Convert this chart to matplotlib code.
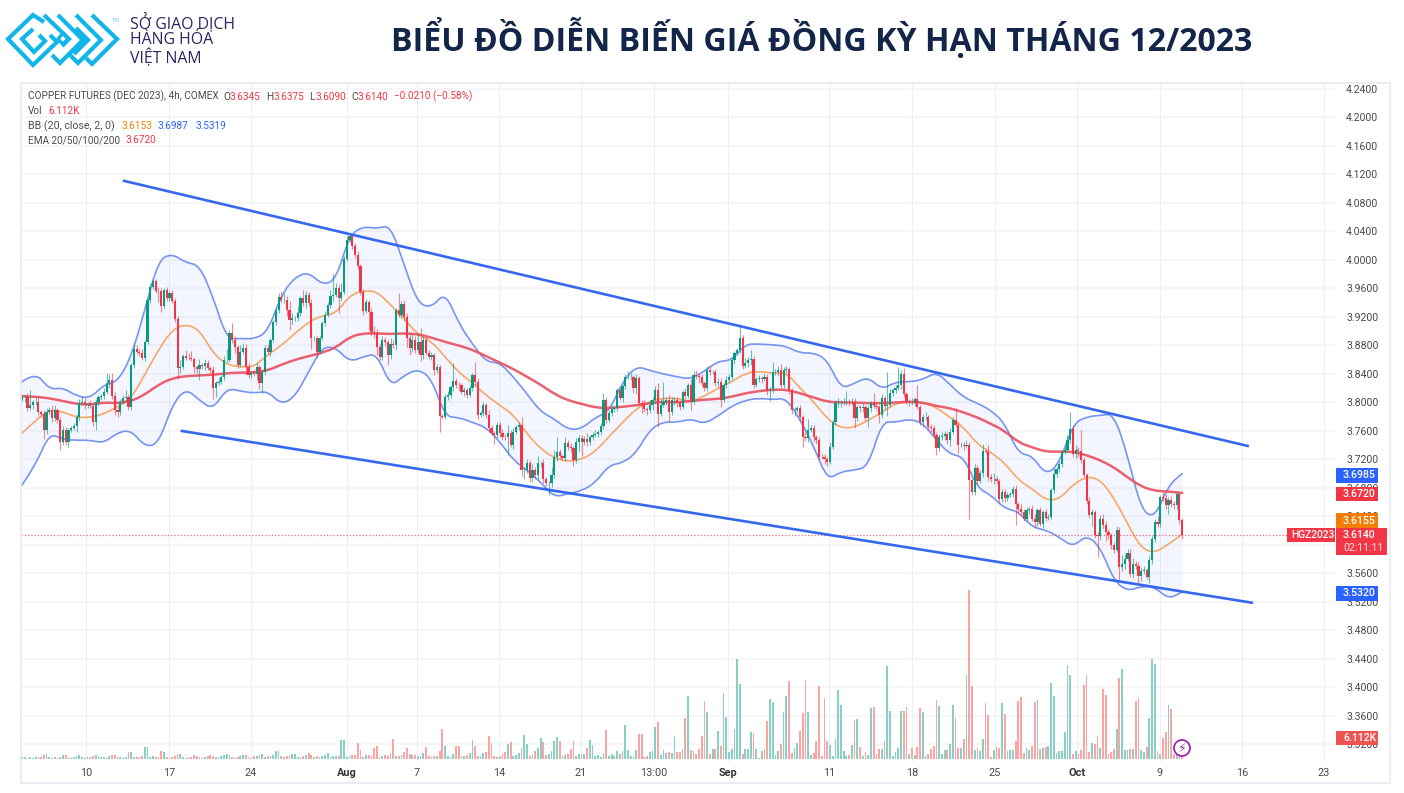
import matplotlib
matplotlib.use('Agg')
import matplotlib.pyplot as plt
import numpy as np
from matplotlib.patches import Circle, PathPatch, Rectangle
from matplotlib.path import Path

W, H = 1404, 793

# prices in thousandths, one value per 4h bar, rows of ten
close_k = [
    3807, 3808, 3792, 3797, 3800, 3801, 3787, 3784, 3761, 3787,
    3790, 3778, 3789, 3775, 3745, 3761, 3744, 3761, 3764, 3767,
    3780, 3799, 3801, 3796, 3798, 3795, 3772, 3801, 3807, 3809,
    3815, 3827, 3832, 3809, 3790, 3787, 3801, 3806, 3808, 3794,
    3853, 3875, 3871, 3869, 3862, 3885, 3944, 3962, 3970, 3957,
    3956, 3935, 3958, 3946, 3953, 3943, 3917, 3848, 3850, 3865,
    3863, 3862, 3861, 3850, 3847, 3853, 3851, 3855, 3848, 3846,
    3820, 3827, 3829, 3836, 3860, 3860, 3897, 3888, 3878, 3853,
    3871, 3876, 3850, 3839, 3841, 3840, 3850, 3827, 3843, 3876,
    3871, 3888, 3913, 3930, 3948, 3944, 3944, 3930, 3916, 3918,
    3918, 3925, 3946, 3939, 3951, 3939, 3890, 3890, 3871, 3890,
    3911, 3923, 3937, 3950, 3951, 3961, 3946, 3955, 4002, 4028,
    4033, 4019, 4007, 3991, 3955, 3928, 3941, 3927, 3899, 3898,
    3878, 3864, 3888, 3885, 3867, 3882, 3881, 3930, 3923, 3938,
    3920, 3890, 3876, 3888, 3874, 3885, 3866, 3888, 3869, 3864,
    3867, 3845, 3850, 3781, 3780, 3808, 3810, 3822, 3830, 3825,
    3824, 3815, 3817, 3810, 3820, 3838, 3829, 3782, 3785, 3796,
    3782, 3764, 3757, 3754, 3768, 3757, 3752, 3751, 3757, 3741,
    3759, 3765, 3769, 3705, 3705, 3715, 3694, 3705, 3698, 3715,
    3715, 3692, 3687, 3687, 3698, 3724, 3731, 3725, 3722, 3743,
    3738, 3736, 3719, 3744, 3750, 3745, 3749, 3744, 3751, 3755,
    3756, 3759, 3767, 3804, 3776, 3785, 3791, 3792, 3818, 3806,
    3823, 3836, 3836, 3836, 3820, 3834, 3799, 3797, 3791, 3789,
    3797, 3804, 3818, 3784, 3797, 3801, 3804, 3786, 3803, 3804,
    3799, 3794, 3815, 3809, 3825, 3801, 3839, 3837, 3836, 3827,
    3820, 3846, 3843, 3843, 3828, 3829, 3804, 3825, 3831, 3836,
    3859, 3869, 3873, 3890, 3851, 3855, 3859, 3861, 3825, 3833,
    3834, 3833, 3836, 3818, 3819, 3843, 3843, 3846, 3825, 3846,
    3847, 3818, 3789, 3790, 3792, 3780, 3752, 3750, 3762, 3764,
    3752, 3747, 3724, 3723, 3720, 3716, 3738, 3773, 3799, 3800,
    3800, 3800, 3801, 3800, 3801, 3778, 3793, 3792, 3793, 3778,
    3792, 3799, 3795, 3793, 3783, 3806, 3795, 3797, 3814, 3818,
    3820, 3825, 3840, 3812, 3801, 3801, 3799, 3805, 3794, 3773,
    3779, 3780, 3766, 3764, 3755, 3736, 3752, 3753, 3756, 3747,
    3759, 3776, 3769, 3741, 3741, 3739, 3741, 3691, 3675, 3708,
    3690, 3701, 3732, 3731, 3695, 3693, 3693, 3690, 3665, 3674,
    3666, 3670, 3672, 3679, 3658, 3651, 3646, 3637, 3649, 3651,
    3637, 3632, 3649, 3630, 3646, 3638, 3639, 3677, 3700, 3707,
    3714, 3731, 3733, 3747, 3763, 3728, 3733, 3732, 3719, 3698,
    3662, 3642, 3646, 3614, 3612, 3637, 3628, 3618, 3614, 3600,
    3593, 3621, 3569, 3574, 3581, 3589, 3559, 3574, 3571, 3557,
    3564, 3565, 3555, 3579, 3609, 3632, 3630, 3667, 3666, 3656,
    3663, 3657, 3656, 3672, 3635, 3614]

wick_up = [
    3, 2, 6, 20, 4, 5, 8, 3, 6, 5,
    4, 6, 8, 3, 5, 6, 4, 3, 3, 4,
    4, 6, 8, 5, 3, 6, 5, 4, 3, 3,
    5, 14, 8, 10, 6, 3, 4, 5, 10, 4,
    3, 8, 6, 4, 6, 2, 3, 5, 3, 3,
    5, 4, 3, 4, 4, 5, 3, 4, 10, 3,
    8, 6, 10, 3, 3, 8, 3, 6, 5, 3,
    5, 3, 6, 3, 5, 15, 5, 14, 5, 3,
    10, 8, 6, 5, 3, 4, 6, 3, 4, 5,
    6, 3, 3, 3, 6, 8, 10, 6, 12, 8,
    4, 10, 3, 12, 6, 4, 6, 3, 4, 3,
    3, 5, 4, 8, 30, 6, 5, 12, 4, 6,
    5, 4, 5, 5, 3, 4, 4, 3, 6, 8,
    5, 4, 6, 4, 3, 8, 5, 3, 23, 5,
    6, 5, 6, 8, 5, 12, 19, 5, 4, 4,
    4, 3, 4, 3, 3, 4, 6, 3, 25, 4,
    4, 3, 5, 3, 4, 3, 19, 6, 3, 4,
    3, 8, 5, 3, 5, 4, 6, 4, 12, 4,
    5, 4, 3, 11, 5, 6, 4, 8, 5, 10,
    3, 5, 3, 3, 12, 10, 20, 4, 3, 8,
    4, 5, 3, 6, 5, 5, 4, 8, 3, 4,
    5, 3, 4, 10, 3, 4, 5, 3, 3, 4,
    3, 4, 8, 5, 3, 6, 3, 4, 6, 3,
    6, 4, 5, 10, 8, 28, 4, 6, 4, 3,
    4, 4, 3, 5, 3, 8, 5, 6, 5, 4,
    3, 5, 6, 3, 4, 5, 5, 3, 6, 4,
    5, 3, 4, 20, 5, 8, 5, 13, 4, 3,
    4, 3, 5, 4, 3, 14, 4, 5, 8, 4,
    4, 3, 3, 4, 3, 5, 3, 6, 15, 5,
    4, 3, 4, 3, 5, 3, 6, 3, 5, 6,
    4, 6, 15, 4, 5, 5, 3, 4, 6, 4,
    5, 3, 15, 5, 4, 6, 3, 46, 5, 3,
    5, 25, 5, 8, 3, 4, 5, 3, 20, 3,
    5, 6, 3, 4, 5, 3, 4, 6, 4, 3,
    5, 3, 16, 3, 4, 4, 6, 4, 3, 5,
    4, 4, 10, 3, 10, 5, 8, 4, 3, 5,
    4, 5, 3, 4, 5, 3, 6, 4, 4, 3,
    5, 6, 3, 5, 3, 5, 4, 3, 8, 3,
    4, 3, 4, 8, 24, 6, 8, 4, 29, 4,
    3, 5, 4, 3, 4, 5, 6, 5, 4, 3,
    4, 6, 4, 12, 6, 5, 5, 8, 4, 5,
    5, 6, 3, 5, 4, 5, 8, 3, 8, 6,
    4, 6, 5, 4, 3, 3]

wick_down = [
    3, 6, 4, 3, 6, 4, 4, 5, 12, 5,
    3, 6, 4, 4, 12, 5, 4, 6, 3, 3,
    8, 4, 3, 5, 4, 3, 5, 10, 4, 3,
    4, 3, 6, 4, 8, 8, 4, 3, 4, 4,
    5, 4, 3, 4, 3, 4, 3, 4, 3, 3,
    15, 8, 3, 4, 3, 4, 4, 15, 6, 3,
    4, 3, 3, 8, 5, 15, 4, 5, 3, 4,
    15, 12, 3, 3, 4, 3, 3, 5, 8, 4,
    3, 3, 12, 4, 5, 3, 8, 8, 14, 4,
    3, 6, 3, 4, 5, 3, 4, 8, 14, 6,
    3, 4, 4, 3, 6, 4, 15, 4, 8, 3,
    3, 4, 3, 4, 8, 3, 20, 4, 3, 4,
    3, 3, 4, 4, 4, 5, 3, 25, 5, 8,
    12, 4, 4, 6, 14, 6, 4, 8, 3, 5,
    5, 12, 10, 5, 4, 5, 8, 5, 3, 3,
    4, 6, 4, 22, 3, 3, 4, 4, 6, 5,
    6, 3, 6, 4, 3, 4, 4, 5, 3, 4,
    4, 6, 3, 12, 4, 5, 4, 4, 25, 4,
    6, 3, 4, 8, 12, 4, 6, 5, 6, 8,
    5, 5, 4, 17, 5, 4, 6, 4, 3, 4,
    5, 5, 8, 4, 12, 20, 4, 5, 3, 4,
    3, 5, 4, 4, 5, 3, 4, 5, 4, 3,
    5, 4, 3, 4, 6, 8, 3, 12, 5, 6,
    4, 8, 5, 18, 3, 4, 4, 12, 4, 6,
    6, 4, 3, 4, 3, 12, 3, 4, 8, 4,
    4, 4, 5, 3, 5, 6, 10, 3, 4, 3,
    4, 5, 3, 3, 4, 3, 5, 6, 5, 3,
    4, 5, 3, 8, 16, 5, 4, 6, 4, 4,
    4, 6, 5, 8, 4, 6, 15, 4, 6, 3,
    8, 5, 5, 3, 6, 5, 3, 3, 4, 5,
    6, 4, 3, 5, 3, 14, 4, 6, 5, 4,
    12, 5, 3, 4, 12, 5, 4, 14, 3, 5,
    4, 3, 6, 5, 3, 6, 3, 4, 3, 4,
    8, 4, 5, 6, 4, 10, 4, 5, 6, 5,
    8, 3, 3, 12, 4, 5, 3, 55, 5, 5,
    4, 3, 6, 4, 5, 4, 8, 4, 6, 5,
    5, 4, 3, 4, 30, 6, 4, 3, 4, 5,
    4, 8, 5, 3, 6, 4, 3, 3, 4, 5,
    4, 5, 3, 3, 4, 5, 6, 8, 4, 3,
    5, 4, 15, 4, 29, 5, 6, 12, 6, 5,
    4, 3, 18, 5, 8, 4, 4, 6, 5, 10,
    8, 5, 3, 8, 6, 5, 5, 5, 4, 6,
    12, 4, 5, 6, 6, 5]

volume_k = [
    .5, .5, .4, .5, .4, .6, .5, .6, 1.3, 1.4,
    .5, .4, .6, .4, .5, 1.2, 1.3, .5, .4, .5,
    .8, 1.1, .5, .4, .5, .6, 1.0, 1.2, .8, .5,
    .6, .4, .8, 1.2, 1.2, .5, .5, .4, .6, 2.0,
    2.2, .6, .7, .6, .8, 3.6, 3.6, .6, .8, .7,
    .7, 2.4, 2.2, .5, .4, .6, .9, 1.5, 1.4, .5,
    .4, .5, .7, 1.1, .9, .5, .4, .6, .9, 1.1,
    1.0, .6, .5, .9, 1.1, 1.5, 1.2, .5, .4, .6,
    .9, 1.3, 1.1, .5, .4, .8, .9, 1.1, 1.5, .7,
    .9, .9, 1.1, 2.4, 2.4, .8, .5, .8, 1.2, 1.6,
    1.5, .6, .7, 1.0, 1.3, 1.8, 1.2, .6, .9, .7,
    1.0, 1.2, 1.8, .5, .8, 1.0, .9, 5.8, 5.8, .6,
    1.0, 1.3, 1.2, 4.8, 2.8, .7, 1.3, 1.2, 1.0, 3.2,
    3.9, .6, 1.0, 1.1, .9, 1.7, 6.0, 1.0, .9, 1.3,
    2.0, 3.4, 1.4, 1.2, 1.1, .8, 1.0, 1.7, 3.6, .9,
    .7, .9, 1.0, 2.5, 9.0, 4.0, .9, .7, 1.5, 3.9,
    3.8, .8, 1.0, 1.1, 1.9, 5.7, 4.0, .9, 1.0, 1.7,
    2.0, 7.0, 4.9, 1.0, .7, .9, 1.6, 2.2, 4.5, 5.2,
    .9, 1.1, 1.9, 3.4, 7.2, 4.5, .8, 1.3, 2.4, 3.2,
    6.4, 5.0, 1.2, 1.6, 2.3, 5.3, 6.6, 5.5, 1.0, 1.2,
    1.5, 3.0, 5.4, .8, 1.4, 1.6, 1.4, 3.2, 5.7, 4.2,
    1.0, 1.2, .7, 1.7, 8.7, 1.0, 1.6, 1.0, 2.5, 1.5,
    2.5, 10.2, 2.8, .8, 1.0, 2.8, 7.5, 7.5, .6, 1.0,
    2.0, 2.5, 9.6, 11.1, 1.2, 2.8, 1.7, 2.0, 1.8, 6.9,
    2.2, 2.1, 3.0, 12.3, 18.9, 2.7, 2.4, 1.6, 3.0, 7.0,
    17.4, 14.1, 1.5, 2.9, 2.9, 8.5, 4.0, 19.8, 12.6, 2.0,
    3.0, 9.0, 30.0, 22.5, 1.6, 3.0, 3.0, 8.1, 7.8, 3.0,
    .3, 2.4, 3.0, 11.3, 18.0, 17.1, 1.3, 2.4, 4.6, 14.0,
    18.9, 23.4, 1.7, 3.2, 4.7, 8.3, 13.8, 23.7, 14.1, 1.2,
    1.7, 5.3, 21.9, 1.0, 18.3, 5.3, 4.3, 1.0, 6.0, 20.7,
    16.2, 2.4, 1.0, 1.2, 4.2, 11.7, 12.0, 3.6, 1.0, 2.0,
    1.2, 15.3, 15.6, 1.6, 3.0, 3.0, 5.4, 27.9, 14.4, 1.0,
    2.0, 3.4, 14.4, 14.4, 15.6, 1.4, 3.4, 1.2, 3.7, 15.3,
    14.1, .8, 1.6, 3.0, 4.0, 17.7, 15.9, 1.6, 2.6, 2.8,
    4.6, 16.2, 12.3, 3.2, 3.4, 6.0, 25.2, 50.7, 21.9, 2.6,
    3.4, 2.5, 6.0, 16.8, 13.2, .7, 2.8, 3.5, 3.3, 16.8,
    13.5, 2.4, 2.6, 2.6, 5.3, 17.4, 18.6, 1.8, 3.4, 2.7,
    4.0, 17.1, 17.7, 3.0, 3.4, 3.6, 4.0, 22.8, 18.9, 1.8,
    2.4, 2.3, 8.2, 28.2, 25.2, 1.5, 2.4, 1.6, 2.6, 22.2,
    25.2, 2.0, 4.7, 4.4, 7.0, 3.2, 21.0, 19.2, 1.5, 2.2,
    3.0, 9.0, 24.3, 27.0, 2.8, 2.6, 3.0, 3.0, 17.4, 18.3,
    2.6, 2.1, 3.6, 12.3, 30.0, 28.5, 2.4, 1.5, 6.3, 8.0,
    16.2, 15.0, 1.6, 3.0, 3.6, 6.1]

# indicator readings, one value every 5 bars
bb_upper_k = [
    3829, 3843, 3818, 3821, 3809, 3806, 3825, 3829, 3864, 3930,
    4000, 4009, 3996, 3993, 3948, 3889, 3890, 3889, 3899, 3951,
    3976, 3983, 3965, 3972, 4035, 4047, 4044, 4049, 3993, 3939,
    3933, 3955, 3911, 3882, 3857, 3856, 3836, 3812, 3787, 3777,
    3762, 3763, 3779, 3787, 3829, 3851, 3845, 3840, 3836, 3833,
    3844, 3858, 3859, 3882, 3882, 3881, 3879, 3869, 3870, 3860,
    3819, 3827, 3836, 3818, 3829, 3829, 3832, 3843, 3825, 3807,
    3799, 3789, 3771, 3728, 3726, 3698, 3714, 3770, 3780, 3782,
    3784, 3726, 3649, 3638, 3684, 3700]
bb_lower_k = [
    3684, 3712, 3757, 3748, 3747, 3747, 3743, 3758, 3761, 3738,
    3742, 3796, 3820, 3803, 3790, 3820, 3816, 3813, 3816, 3797,
    3808, 3843, 3878, 3877, 3857, 3864, 3869, 3822, 3838, 3847,
    3834, 3780, 3779, 3772, 3765, 3745, 3719, 3705, 3688, 3667,
    3672, 3676, 3687, 3712, 3715, 3729, 3762, 3773, 3772, 3777,
    3770, 3781, 3795, 3803, 3806, 3804, 3806, 3776, 3739, 3691,
    3703, 3705, 3710, 3773, 3772, 3777, 3771, 3747, 3727, 3724,
    3680, 3670, 3651, 3647, 3625, 3621, 3611, 3597, 3614, 3597,
    3550, 3535, 3542, 3541, 3524, 3534]
bb_basis_k = [
    3757, 3775, 3790, 3787, 3779, 3779, 3784, 3794, 3806, 3839,
    3874, 3902, 3910, 3902, 3869, 3853, 3850, 3850, 3867, 3880,
    3897, 3913, 3922, 3925, 3950, 3957, 3956, 3937, 3918, 3895,
    3886, 3864, 3842, 3828, 3810, 3796, 3783, 3756, 3735, 3722,
    3717, 3720, 3731, 3752, 3772, 3791, 3802, 3806, 3806, 3801,
    3809, 3820, 3829, 3841, 3844, 3841, 3842, 3820, 3801, 3777,
    3764, 3765, 3775, 3786, 3799, 3801, 3800, 3793, 3779, 3765,
    3741, 3730, 3715, 3691, 3679, 3663, 3664, 3685, 3696, 3692,
    3666, 3630, 3595, 3589, 3601, 3615]
ema_k = [
    3809, 3808, 3806, 3802, 3798, 3797, 3800, 3799, 3802, 3811,
    3825, 3834, 3837, 3838, 3839, 3841, 3842, 3842, 3845, 3853,
    3860, 3865, 3870, 3877, 3892, 3897, 3897, 3896, 3897, 3896,
    3891, 3885, 3880, 3874, 3865, 3856, 3847, 3836, 3825, 3812,
    3803, 3798, 3793, 3792, 3794, 3796, 3799, 3801, 3800, 3802,
    3804, 3805, 3808, 3813, 3816, 3818, 3818, 3813, 3807, 3801,
    3800, 3800, 3799, 3799, 3800, 3801, 3800, 3795, 3792, 3786,
    3779, 3770, 3760, 3744, 3737, 3731, 3731, 3731, 3726, 3719,
    3709, 3695, 3682, 3676, 3675, 3673]

# hand-drawn channel: bar and price of both ends
channel_top_bar = [37.4, 449.0]
channel_top_price = [4.111, 3.739]
channel_bot_bar = [58.6, 450.5]
channel_bot_price = [3.760, 3.519]

time_ticks = [23.4, 53.8, 83.9, 119.0, 144.7, 174.7, 204.8, 231.5, 258.6,
              295.6, 326.0, 356.4, 386.4, 416.8, 446.9, 476.9]
time_labels = ['10', '17', '24', 'Aug', '7', '14', '21', '13:00', 'Sep',
               '11', '18', '25', 'Oct', '9', '16', '23']
price_ticks = [3.32, 3.36, 3.40, 3.44, 3.48, 3.52, 3.56, 3.60, 3.64, 3.68,
               3.72, 3.76, 3.80, 3.84, 3.88, 3.92, 3.96, 4.00, 4.04, 4.08,
               4.12, 4.16, 4.20, 4.24]

GREEN = '#089981'
RED = '#f23645'
TEXT = '#4a4a4a'
FONT = 'Roboto'


def draw_candles(ax, bars, opens, closes, highs, lows):
    up = closes >= opens
    for flag, color in ((up, GREEN), (~up, RED)):
        ax.vlines(bars[flag], lows[flag], highs[flag], color=color,
                  lw=0.8, alpha=0.6, zorder=4)
        ax.bar(bars[flag], (closes - opens)[flag], bottom=opens[flag],
               width=0.8, color=color, lw=0, zorder=5)


def rounded_path(xs, ys):
    """Path through the readings with its corners drawn as quadratic curves."""
    pts = np.column_stack([xs, ys])
    verts = [pts[0]]
    codes = [Path.MOVETO]
    for p, q in zip(pts[1:-1], pts[2:]):
        verts += [p, (p + q) / 2]
        codes += [Path.CURVE3, Path.CURVE3]
    verts.append(pts[-1])
    codes.append(Path.LINETO)
    return Path(verts, codes)


def curve(ax, xs, ys, **kw):
    ax.add_patch(PathPatch(rounded_path(xs, ys), fill=False,
                           capstyle='round', **kw))


def band_fill(ax, xs, upper, lower, **kw):
    top = rounded_path(xs, upper)
    bottom = rounded_path(xs[::-1], lower[::-1])
    codes = np.r_[top.codes, Path.LINETO, bottom.codes[1:]]
    verts = np.vstack([top.vertices, bottom.vertices])
    ax.add_patch(PathPatch(Path(verts, codes), **kw))


def label(page, x, y, text, color=TEXT, size=7.2, **kw):
    page.text(x, y, text, color=color, fontsize=size, family=FONT,
              va='center', **kw)


def tag(page, x0, x1, y0, y1, color):
    page.add_patch(Rectangle((x0, y0), x1 - x0, y1 - y0, facecolor=color,
                             edgecolor='none'))


closes = np.array(close_k) / 1000
opens = np.r_[3.805, closes[:-1]]
highs = np.maximum(opens, closes) + np.array(wick_up) / 1000
lows = np.minimum(opens, closes) - np.array(wick_down) / 1000
bars = np.arange(len(closes))
band_bars = np.arange(0, len(closes), 5)
bb_upper = np.array(bb_upper_k) / 1000
bb_lower = np.array(bb_lower_k) / 1000
bb_basis = np.array(bb_basis_k) / 1000
ema = np.array(ema_k) / 1000

fig = plt.figure(figsize=(W / 100, H / 100), dpi=100, facecolor='white')

# chart area spans px 21..1335 across, 84..762 down
ax = fig.add_axes([21 / W, 1 - 762 / H, 1314 / W, 678 / H])
ax_vol = ax.twinx()
ax.set_zorder(2)
ax.patch.set_visible(False)
ax_vol.set_zorder(1)
ax.set_xlim(-0.37, 481)
ax.set_ylim(3.2954, 4.247)
ax_vol.set_ylim(-0.9, 202.5)
ax_vol.set_yticks([])
ax_vol.patch.set_facecolor('white')
for a in (ax, ax_vol):
    for spine in a.spines.values():
        spine.set_visible(False)

ax.yaxis.tick_right()
ax.set_yticks(price_ticks)
ax.set_yticklabels(['%.4f' % p for p in price_ticks], family=FONT,
                   fontsize=7.6, color=TEXT)
ax.tick_params(axis='y', length=0, pad=8)
ax.set_xticks(time_ticks)
ax.set_xticklabels(time_labels, family=FONT, fontsize=7.8, color=TEXT)
ax.tick_params(axis='x', length=0, pad=4)
for lab, text in zip(ax.get_xticklabels(), time_labels):
    if text in ('Aug', 'Sep', 'Oct'):
        lab.set_fontweight('bold')
        lab.set_color('#333333')
for p in price_ticks:
    ax_vol.plot([-0.37, 481], [(p - 3.2954) / (4.247 - 3.2954) * 203.4 - 0.9] * 2,
                color='#f6f6f8', lw=1.4, zorder=0)
for t in time_ticks:
    ax_vol.axvline(t, color='#eeeef3', lw=0.8, zorder=0)

is_up = closes >= opens
ax_vol.bar(bars, volume_k, width=0.65, bottom=0, lw=0, zorder=2,
           color=np.where(is_up, '#89d0c4', '#fca3a3'))

band_fill(ax, band_bars, bb_upper, bb_lower, facecolor='#2962ff', alpha=0.05,
          lw=0, zorder=1)
curve(ax, band_bars, bb_upper, edgecolor='#7595f3', lw=1.2, zorder=2)
curve(ax, band_bars, bb_lower, edgecolor='#7595f3', lw=1.2, zorder=2)
curve(ax, band_bars, bb_basis, edgecolor='#f8a767', lw=1.2, zorder=3)
curve(ax, band_bars, ema, edgecolor='#e9505f', lw=1.8, alpha=0.9, zorder=3)
draw_candles(ax, bars, opens, closes, highs, lows)
ax.plot(channel_top_bar, channel_top_price, color='#3568ee', lw=1.9, zorder=6)
ax.plot(channel_bot_bar, channel_bot_price, color='#3568ee', lw=1.9, zorder=6)
ax.axhline(closes[-1], color=RED, lw=0.9, ls=(0, (1, 1.6)), alpha=0.75, zorder=3)

# page-level layer in pixel coordinates: frame, logo, title, price tags
page = fig.add_axes([0, 0, 1, 1], zorder=5)
page.set_xlim(0, W)
page.set_ylim(H, 0)
page.axis('off')
page.add_patch(Rectangle((21, 83), 1369, 700, fill=False, edgecolor='#e9eaf2',
                         lw=1.2))

logo_paths = [
    [(44, 22), (33, 15), (8, 39), (33, 65), (57, 42), (50, 35)],
    [(33, 29), (22, 39), (34, 52), (45, 41), (39, 35)],
    [(44, 15), (69, 39), (62, 46)],
    [(58, 15), (83, 40), (60, 63), (52, 55)],
    [(76, 15), (101, 40), (78, 63), (70, 55)],
    [(76, 28), (88, 40), (74, 54)],
    [(92, 15), (117, 39), (92, 64), (86, 58)],
]
for path in logo_paths:
    xs, ys = zip(*path)
    page.plot(xs, ys, color='#12b5ea', lw=3.0, solid_joinstyle='miter',
              solid_capstyle='butt')
page.plot([63, 58, 63, 68, 63], [33, 39, 44, 39, 33], color='#12b5ea', lw=2.4)
label(page, 112, 20, 'TM', color='#7fd3f0', size=4)
for y, text in zip((23, 40, 58), ('SỞ GIAO DỊCH', 'HÀNG HÓA', 'VIỆT NAM')):
    page.text(130, y, text, color='#2b2464', fontsize=11.4, family='Open Sans',
              va='center')
page.text(391, 39, 'BIỂU ĐỒ DIỄN BIẾN GIÁ ĐỒNG KỲ HẠN THÁNG 12/2023',
          color='#14254a', fontsize=23.1, fontweight='bold', family='Open Sans',
          va='center')

label(page, 28, 96.5, 'COPPER FUTURES (DEC 2023), 4h, COMEX')
for x, letter, value in ((223, 'O', '3.6345'), (266, 'H', '3.6375'),
                         (309, 'L', '3.6090'), (351, 'C', '3.6140')):
    label(page, x, 96.5, letter)
    label(page, x + 7, 96.5, value, color=RED)
label(page, 394, 96.5, '−0.0210 (−0.58%)', color=RED)
label(page, 28, 111, 'Vol')
label(page, 48, 111, '6.112K', color=RED)
label(page, 28, 126, 'BB (20, close, 2, 0)', size=7.7)
label(page, 121, 126, '3.6153', color='#f57c00')
label(page, 158, 126, '3.6987', color='#2962ff')
label(page, 195, 126, '3.5319', color='#2962ff')
label(page, 28, 140, 'EMA 20/50/100/200')
label(page, 126, 140, '3.6720', color=RED)

for y0, y1, color, text in ((468, 483, '#2962ff', '3.6985'),
                            (487, 501, '#f23645', '3.6720'),
                            (513, 528, '#f57c00', '3.6155'),
                            (586, 601, '#2962ff', '3.5320'),
                            (731, 745, '#ef5350', '6.112K')):
    tag(page, 1336, 1378, y0, y1, color)
    label(page, 1343, (y0 + y1) / 2, text, color='white', size=7.6,
          fontweight='medium')
tag(page, 1336, 1387, 528, 555, RED)
label(page, 1343, 535.5, '3.6140', color='white', size=7.6, fontweight='medium')
label(page, 1343, 548, '02:11:11', color='#fde0e3', size=7.6)
tag(page, 1287, 1335, 528, 542, RED)
label(page, 1291, 535.5, 'HGZ2023', color='white', size=7.4, fontweight='medium')

page.add_patch(Circle((1182, 748), 8, facecolor='white', edgecolor='#9c27b0',
                      lw=1.3))
page.text(1182, 748, '⚡', color='#9c27b0', fontsize=9, family='DejaVu Sans',
          ha='center', va='center')

fig.savefig('out.png', dpi=100)
